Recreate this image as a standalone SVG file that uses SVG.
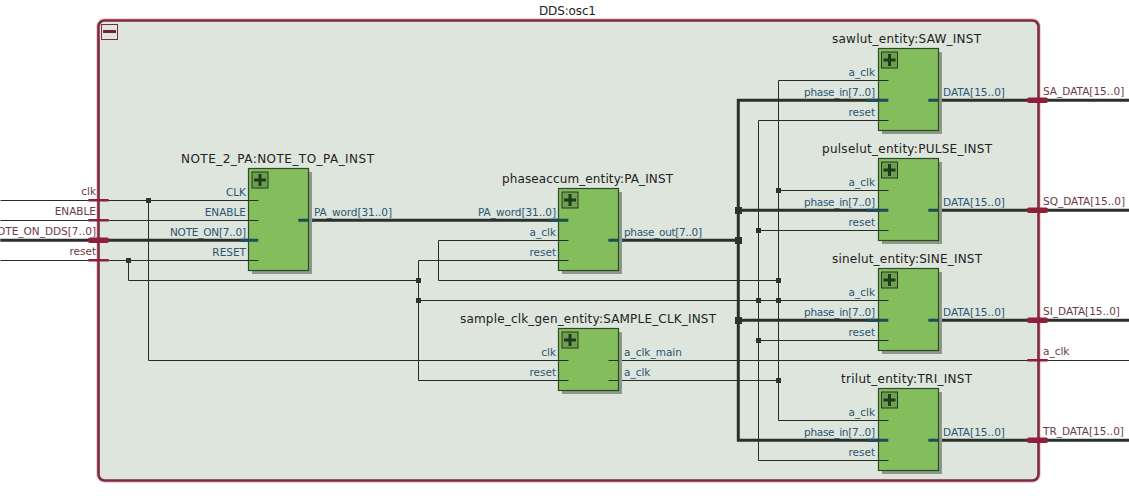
<svg xmlns="http://www.w3.org/2000/svg" width="1129" height="496" viewBox="0 0 1129 496">
<style>
text{font-family:"DejaVu Sans","Liberation Sans",sans-serif;font-size:10.5px}
.t{fill:#222;font-size:12px;text-anchor:middle}
.pi{fill:#2b5573;text-anchor:end}
.po{fill:#2b5573}
.oi{fill:#6b3a48;text-anchor:end}
.oo{fill:#6b3a48}
.w{fill:none;stroke:#262c26;stroke-width:1;transform:translate(.5px,.5px)}
.b{fill:none;stroke:#2a302a;stroke-width:3;transform:translate(.3px,.3px)}
.tint{fill:none;stroke:#1c4d5c;stroke-width:3;transform:translate(.3px,.3px)}
.box{fill:#84bd5c;stroke:#2e4a2a;stroke-width:1.2}
.sh{fill:#8b9a84}
.ic{fill:#6f9f4e;stroke:#24391f;stroke-width:1}
.pl{fill:none;stroke:#1d3a1a;stroke-width:3}
.pin{fill:#8c2036}
.j{fill:#2d332d}
</style>
<rect width="1129" height="496" fill="#fff"/>
<g id="DDS_osc1">
<rect x="98.5" y="20.5" width="940" height="460" rx="6" fill="#dde5dc" stroke="#f3d3d8" stroke-width="5"/>
<rect x="98.5" y="20.5" width="940" height="460" rx="6" fill="#dde5dc" stroke="#7c2a3c" stroke-width="2.6"/>
<rect x="101.5" y="24.5" width="16" height="15" fill="#dde5dc" stroke="#7c2a3c"/>
<path d="M103 31.5H116" fill="none" stroke="#6a2432" stroke-width="3"/>
<text class="t" x="567.500" y="15" textLength="57">DDS:osc1</text>
</g>
<g id="connectors">
<path class="w" d="M0 200H258M0 220H258M0 260H258M148 200V360H568M128 260V280H418M418 260V380H568M418 260H568M418 300H888M438 240H568M438 240V280H778M608 360H1129M608 380H778M778 80H888M778 80V420H888M778 190H888M758 120H888M758 120V460H888M758 230H888M758 340H888"/>
<path class="b" d="M0 240H258M298 220H568M608 240H738M888 100H738V440H888M738 210H888M738 320H888M928 100H1129M928 210H1129M928 320H1129M928 440H1129"/>
<path class="tint" d="M240 240H258M298 220H314M548 220H568M608 240H624M866 100H888M866 210H888M866 320H888M866 440H888M928 100H942M928 210H942M928 320H942M928 440H942" />
<g class="j">
<rect x="146" y="198" width="5" height="5"/><rect x="126" y="258" width="5" height="5"/>
<rect x="416" y="278" width="5" height="5"/><rect x="416" y="298" width="5" height="5"/>
<rect x="756" y="298" width="5" height="5"/><rect x="776" y="298" width="5" height="5"/>
<rect x="776" y="278" width="5" height="5"/><rect x="776" y="378" width="5" height="5"/>
<rect x="776" y="188" width="5" height="5"/><rect x="756" y="228" width="5" height="5"/>
<rect x="756" y="338" width="5" height="5"/>
<rect x="735" y="207" width="7" height="7"/><rect x="735" y="237" width="7" height="7"/><rect x="735" y="317" width="7" height="7"/>
</g>
<g class="pin">
<rect x="88" y="199" width="21" height="2.4" rx="1"/><rect x="88" y="219" width="21" height="2.4" rx="1"/>
<rect x="88" y="237.5" width="21" height="5.5" rx="2"/><rect x="88" y="259" width="21" height="2.4" rx="1"/>
<rect x="1027" y="97.5" width="21" height="5.5" rx="2"/><rect x="1027" y="207.5" width="21" height="5.5" rx="2"/>
<rect x="1027" y="317.5" width="21" height="5.5" rx="2"/><rect x="1027" y="359" width="21" height="2.4" rx="1"/>
<rect x="1027" y="437.5" width="21" height="5.5" rx="2"/>
</g>
</g>
<g id="ports_outer">
<text class="oi" x="96" y="195">clk</text>
<text class="oi" x="96" y="215">ENABLE</text>
<text class="oi" x="96" y="235">NOTE_ON_DDS[7..0]</text>
<text class="oi" x="96" y="255">reset</text>
<text class="oo" x="1043" y="95">SA_DATA[15..0]</text>
<text class="oo" x="1043" y="205">SQ_DATA[15..0]</text>
<text class="oo" x="1043" y="315">SI_DATA[15..0]</text>
<text class="oo" x="1043" y="355">a_clk</text>
<text class="oo" x="1043" y="435">TR_DATA[15..0]</text>
</g>
<g id="NOTE_TO_PA_INST">
<rect class="sh" x="252" y="172" width="60" height="102"/>
<rect class="box" x="248.5" y="168.5" width="60" height="102"/>
<rect class="ic" x="252" y="172" width="16" height="16"/><path class="pl" d="M254 180H266M260 174V186"/>
<path class="w" d="M248 200H258M248 220H258M248 260H258"/><path class="tint" d="M248 240H258M298 220H308"/>
<text class="t" x="277.500" y="163" textLength="193">NOTE_2_PA:NOTE_TO_PA_INST</text>
<text class="pi" x="246" y="196">CLK</text><text class="pi" x="246" y="216">ENABLE</text><text class="pi" x="246" y="236" textLength="76">NOTE_ON[7..0]</text><text class="pi" x="246" y="256">RESET</text>
<text class="po" x="314" y="216" textLength="78">PA_word[31..0]</text>
</g>
<g id="PA_INST">
<rect class="sh" x="562" y="192" width="60" height="82"/>
<rect class="box" x="558.500" y="188.500" width="60" height="82"/>
<rect class="ic" x="562" y="192" width="16" height="16"/><path class="pl" d="M564 200H576M570 194V206"/>
<path class="w" d="M558 240H568M558 260H568"/><path class="tint" d="M558 220H568M608 240H618"/>
<text class="t" x="587.500" y="183" textLength="171">phaseaccum_entity:PA_INST</text>
<text class="pi" x="556" y="216" textLength="78">PA_word[31..0]</text><text class="pi" x="556" y="236">a_clk</text><text class="pi" x="556" y="256">reset</text>
<text class="po" x="624" y="236" textLength="78">phase_out[7..0]</text>
</g>
<g id="SAMPLE_CLK_INST">
<rect class="sh" x="562" y="332" width="60" height="62"/>
<rect class="box" x="558.500" y="328.500" width="60" height="62"/>
<rect class="ic" x="562" y="332" width="16" height="16"/><path class="pl" d="M564 340H576M570 334V346"/>
<path class="w" d="M558 360H568M558 380H568M608 360H618M608 380H618"/>
<text class="t" x="588" y="323" textLength="256">sample_clk_gen_entity:SAMPLE_CLK_INST</text>
<text class="pi" x="556" y="356">clk</text><text class="pi" x="556" y="376">reset</text>
<text class="po" x="624" y="356">a_clk_main</text><text class="po" x="624" y="376">a_clk</text>
</g>
<g id="SAW_INST">
<rect class="sh" x="882" y="52" width="60" height="82"/>
<rect class="box" x="878.500" y="48.500" width="60" height="82"/>
<rect class="ic" x="881.500" y="52" width="16" height="16"/><path class="pl" d="M883.500 60H895.500M889.500 54V66"/>
<path class="w" d="M878 80H888M878 120H888"/><path class="tint" d="M878 100H888M928 100H938"/>
<text class="t" x="906.500" y="43" textLength="149">sawlut_entity:SAW_INST</text>
<text class="pi" x="875" y="76">a_clk</text><text class="pi" x="875" y="96" textLength="71">phase_in[7..0]</text><text class="pi" x="875" y="116">reset</text>
<text class="po" x="943" y="96">DATA[15..0]</text>
</g>
<g id="PULSE_INST">
<rect class="sh" x="882" y="162" width="60" height="82"/>
<rect class="box" x="878.500" y="158.500" width="60" height="82"/>
<rect class="ic" x="881.500" y="162" width="16" height="16"/><path class="pl" d="M883.500 170H895.500M889.500 164V176"/>
<path class="w" d="M878 190H888M878 230H888"/><path class="tint" d="M878 210H888M928 210H938"/>
<text class="t" x="907" y="153" textLength="170">pulselut_entity:PULSE_INST</text>
<text class="pi" x="875" y="186">a_clk</text><text class="pi" x="875" y="206" textLength="71">phase_in[7..0]</text><text class="pi" x="875" y="226">reset</text>
<text class="po" x="943" y="206">DATA[15..0]</text>
</g>
<g id="SINE_INST">
<rect class="sh" x="882" y="272" width="60" height="82"/>
<rect class="box" x="878.500" y="268.500" width="60" height="82"/>
<rect class="ic" x="881.500" y="272" width="16" height="16"/><path class="pl" d="M883.500 280H895.500M889.500 274V286"/>
<path class="w" d="M878 300H888M878 340H888"/><path class="tint" d="M878 320H888M928 320H938"/>
<text class="t" x="907" y="263" textLength="150">sinelut_entity:SINE_INST</text>
<text class="pi" x="875" y="296">a_clk</text><text class="pi" x="875" y="316" textLength="71">phase_in[7..0]</text><text class="pi" x="875" y="336">reset</text>
<text class="po" x="943" y="316">DATA[15..0]</text>
</g>
<g id="TRI_INST">
<rect class="sh" x="882" y="392" width="60" height="82"/>
<rect class="box" x="878.500" y="388.500" width="60" height="82"/>
<rect class="ic" x="881.500" y="392" width="16" height="16"/><path class="pl" d="M883.500 400H895.500M889.500 394V406"/>
<path class="w" d="M878 420H888M878 460H888"/><path class="tint" d="M878 440H888M928 440H938"/>
<text class="t" x="906.500" y="383" textLength="131">trilut_entity:TRI_INST</text>
<text class="pi" x="875" y="416">a_clk</text><text class="pi" x="875" y="436" textLength="71">phase_in[7..0]</text><text class="pi" x="875" y="456">reset</text>
<text class="po" x="943" y="436">DATA[15..0]</text>
</g>
</svg>
